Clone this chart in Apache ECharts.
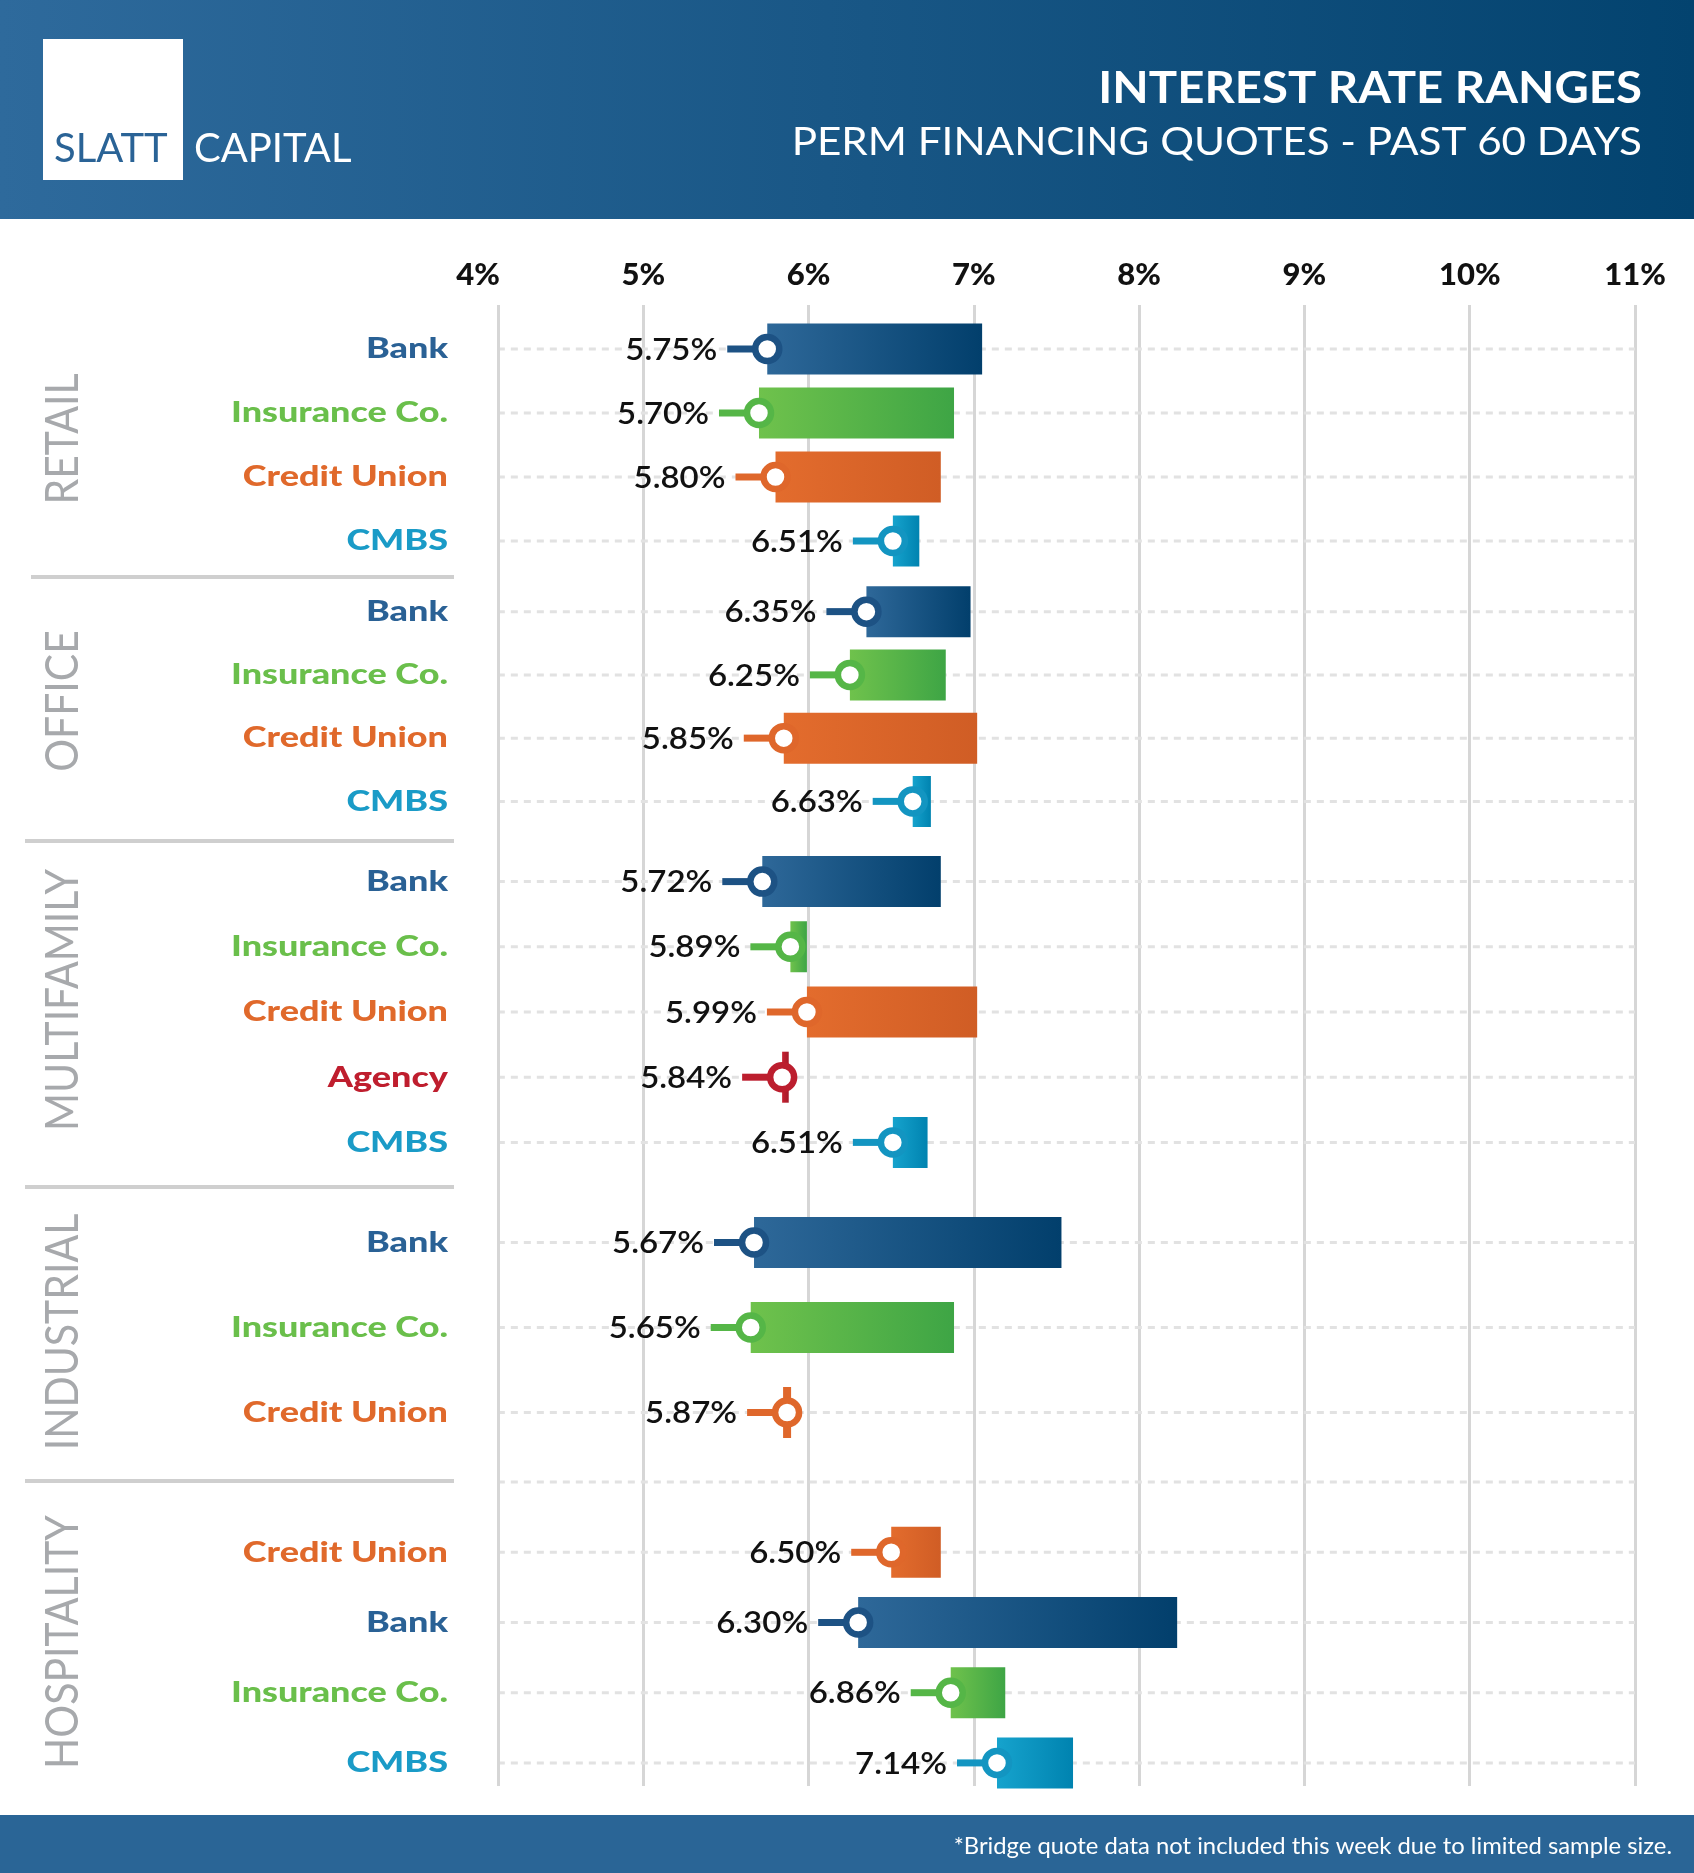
<!DOCTYPE html>
<html>
<head>
<meta charset="utf-8">
<title>Interest Rate Ranges</title>
<script src="https://cdn.jsdelivr.net/npm/echarts@6/dist/echarts.min.js"></script>
<style>
    html, body { margin: 0; padding: 0; background: #fff; }
    #chart { width: 1694px; height: 1873px; }
</style>
</head>
<body>
<div id="chart"></div>
<script>
    // ---- data ----
    var sections = ['RETAIL', 'OFFICE', 'MULTIFAMILY', 'INDUSTRIAL', 'HOSPITALITY'];
    var axisTicks = [4, 5, 6, 7, 8, 9, 10, 11];

    var retailLenders = ['Bank', 'Insurance Co.', 'Credit Union', 'CMBS'];
    var retailLow = [5.75, 5.70, 5.80, 6.51];
    var retailHigh = [7.05, 6.88, 6.80, 6.67];

    var officeLenders = ['Bank', 'Insurance Co.', 'Credit Union', 'CMBS'];
    var officeLow = [6.35, 6.25, 5.85, 6.63];
    var officeHigh = [6.98, 6.83, 7.02, 6.74];

    var multifamilyLenders = ['Bank', 'Insurance Co.', 'Credit Union', 'Agency', 'CMBS'];
    var multifamilyLow = [5.72, 5.89, 5.99, 5.84, 6.51];
    var multifamilyHigh = [6.80, 5.99, 7.02, 5.88, 6.72];

    var industrialLenders = ['Bank', 'Insurance Co.', 'Credit Union'];
    var industrialLow = [5.67, 5.65, 5.87];
    var industrialHigh = [7.53, 6.88, 5.87];

    // first row is the empty dotted row above hospitality
    var hospitalityLenders = ['', 'Credit Union', 'Bank', 'Insurance Co.', 'CMBS'];
    var hospitalityLow = [null, 6.50, 6.30, 6.86, 7.14];
    var hospitalityHigh = [null, 6.80, 8.23, 7.19, 7.60];

    // ---- styling ----
    var lenderStyle = {
        'Bank': {text: '#2a6195', ring: '#1d5284', from: '#2e6899', to: '#023f6c'},
        'Insurance Co.': {text: '#6abf4b', ring: '#55b647', from: '#6fc24c', to: '#3ea545'},
        'Credit Union': {text: '#e0692b', ring: '#df672b', from: '#e36c2d', to: '#d05d25'},
        'CMBS': {text: '#1a9bc7', ring: '#1395c1', from: '#16a3cd', to: '#0083b0'},
        'Agency': {text: '#bf1e2e', ring: '#bc1e2e', from: '#c52130', to: '#a51a2a'}
    };
    var sectionData = [
        [retailLenders, retailLow, retailHigh],
        [officeLenders, officeLow, officeHigh],
        [multifamilyLenders, multifamilyLow, multifamilyHigh],
        [industrialLenders, industrialLow, industrialHigh],
        [hospitalityLenders, hospitalityLow, hospitalityHigh]
    ];
    var gridBoxes = [
        {top: 317, height: 256},
        {top: 580, height: 253},
        {top: 849, height: 326},
        {top: 1200, height: 255},
        {top: 1447, height: 351}
    ];
    var sectionCenters = [439, 701, 1000, 1332, 1642];
    var separators = [577, 841, 1187, 1481];
    var plotFrom = 4.12;   // left frame line of the plot
    var barH = 51;
    var FONT = 'Lato, "Open Sans", sans-serif';

    function makeRenderer(lenders) {
        return function (params, api) {
            var cat = api.value(0);
            var a = api.coord([plotFrom, cat]);
            var b = api.coord([axisTicks[axisTicks.length - 1], cat]);
            var y = a[1];
            var children = [{
                type: 'line',
                shape: {x1: a[0], y1: y, x2: b[0], y2: y},
                style: {stroke: '#e2e2e2', lineWidth: 3, lineDash: [7, 6]}
            }];
            var low = api.value(1), high = api.value(2);
            if (isNaN(low)) {
                return {type: 'group', children: children};
            }
            var name = lenders[params.dataIndex];
            var st = lenderStyle[name];
            // lender name, right-aligned left of the plot
            children.push({
                type: 'text', x: params.coordSys.x - 30, y: y, scaleX: 1.24,
                style: {
                    text: name, x: 0, y: 0, align: 'right', verticalAlign: 'middle',
                    fill: st.text, font: '900 29px ' + FONT
                }
            });
            var x0 = api.coord([low, cat])[0];
            var x1 = api.coord([high, cat])[0];
            if (x1 - x0 > 0.5) {
                children.push({
                    type: 'rect',
                    shape: {x: x0, y: y - barH / 2, width: x1 - x0, height: barH},
                    style: {
                        fill: new echarts.graphic.LinearGradient(0, 0, 1, 0, [
                            {offset: 0, color: st.from},
                            {offset: 1, color: st.to}
                        ])
                    }
                });
            } else {
                children.push({
                    type: 'rect',
                    shape: {x: x0 - 4, y: y - barH / 2, width: 8, height: barH},
                    style: {fill: st.ring}
                });
            }
            children.push({
                type: 'rect',
                shape: {x: x0 - 40, y: y - 3.5, width: 30, height: 7},
                style: {fill: st.ring}
            });
            children.push({
                type: 'circle',
                shape: {cx: x0, cy: y, r: 12},
                style: {fill: '#fff', stroke: st.ring, lineWidth: 6.5}
            });
            children.push({
                type: 'text', x: x0 - 50, y: y + 1, scaleX: 1.1,
                style: {
                    text: low.toFixed(2) + '%', x: 0, y: 0,
                    align: 'right', verticalAlign: 'middle',
                    fill: '#111', font: '600 30px ' + FONT
                }
            });
            return {type: 'group', children: children};
        };
    }

    var grids = [{left: 478, right: 59, top: 305, height: 1481}];
    var xAxes = [{
        gridIndex: 0, type: 'value', position: 'top',
        min: axisTicks[0], max: axisTicks[axisTicks.length - 1], interval: 1,
        axisLine: {show: false}, axisTick: {show: false},
        axisLabel: {
            formatter: '{value}%', margin: 15,
            color: '#111', fontSize: 31, fontWeight: 900, fontFamily: FONT
        },
        splitLine: {show: true, showMinLine: false, lineStyle: {color: '#d6d6d6', width: 3}}
    }];
    var yAxes = [{gridIndex: 0, type: 'value', min: 0, max: 1, show: false}];
    var series = [{
        type: 'line', xAxisIndex: 0, yAxisIndex: 0, data: [],
        markLine: {
            silent: true, symbol: ['none', 'none'], label: {show: false},
            lineStyle: {color: '#d6d6d6', width: 3, type: 'solid'},
            data: [{xAxis: plotFrom}]
        }
    }];

    sectionData.forEach(function (sec, i) {
        var lenders = sec[0], low = sec[1], high = sec[2];
        grids.push({left: 478, right: 59, top: gridBoxes[i].top, height: gridBoxes[i].height});
        xAxes.push({
            gridIndex: i + 1, type: 'value',
            min: axisTicks[0], max: axisTicks[axisTicks.length - 1], show: false
        });
        yAxes.push({
            gridIndex: i + 1, type: 'category', inverse: true, data: lenders,
            axisLine: {show: false}, axisTick: {show: false}, splitLine: {show: false},
            axisLabel: {show: false}
        });
        series.push({
            type: 'custom', xAxisIndex: i + 1, yAxisIndex: i + 1,
            clip: false,
            encode: {x: [1, 2], y: 0},
            renderItem: makeRenderer(lenders),
            data: lenders.map(function (l, k) { return [k, low[k], high[k]]; })
        });
    });

    var graphics = [
        {
            type: 'rect', z: -1, shape: {x: 0, y: 0, width: 1694, height: 219},
            style: {fill: new echarts.graphic.LinearGradient(0, 0, 1, 0, [
                {offset: 0, color: '#2e6a9c'}, {offset: 1, color: '#03436f'}
            ])}
        },
        {type: 'rect', shape: {x: 43, y: 39, width: 140, height: 141}, style: {fill: '#fff'}},
        {type: 'text', x: 54, y: 149, style: {text: 'SLATT', x: 0, y: 0, verticalAlign: 'middle', fill: '#2a6396', font: '40px ' + FONT}},
        {type: 'text', x: 194, y: 149, style: {text: 'CAPITAL', x: 0, y: 0, verticalAlign: 'middle', fill: '#fff', font: '40px ' + FONT}},
        {type: 'text', x: 1642, y: 89, scaleX: 1.1, style: {text: 'INTEREST RATE RANGES', x: 0, y: 0, align: 'right', verticalAlign: 'middle', fill: '#fff', font: 'bold 43px ' + FONT}},
        {type: 'text', x: 1642, y: 143, scaleX: 1.11, style: {text: 'PERM FINANCING QUOTES - PAST 60 DAYS', x: 0, y: 0, align: 'right', verticalAlign: 'middle', fill: '#fff', font: '38px ' + FONT}},
        {type: 'rect', shape: {x: 0, y: 1815, width: 1694, height: 58}, style: {fill: '#2a6596'}},
        {type: 'text', x: 1672, y: 1847, scaleX: 1.035, style: {text: '*Bridge quote data not included this week due to limited sample size.', x: 0, y: 0, align: 'right', verticalAlign: 'middle', fill: '#fff', font: '23px ' + FONT}}
    ];
    separators.forEach(function (y, i) {
        var x0 = i === 0 ? 31 : 25;
        graphics.push({type: 'rect', shape: {x: x0, y: y - 2, width: 448 - x0 + 6, height: 4}, style: {fill: '#cfcfcf'}});
    });
    sections.forEach(function (name, i) {
        graphics.push({
            type: 'text', x: 63, y: sectionCenters[i], rotation: Math.PI / 2, scaleY: 1.15,
            style: {text: name, x: 0, y: 0, align: 'center', verticalAlign: 'middle', fill: '#a7a9ac', font: '41px ' + FONT}
        });
    });

    var chart = echarts.init(document.getElementById('chart'));
    chart.setOption({
        animation: false,
        backgroundColor: '#fff',
        grid: grids,
        xAxis: xAxes,
        yAxis: yAxes,
        series: series,
        graphic: graphics
    });
</script>
</body>
</html>
